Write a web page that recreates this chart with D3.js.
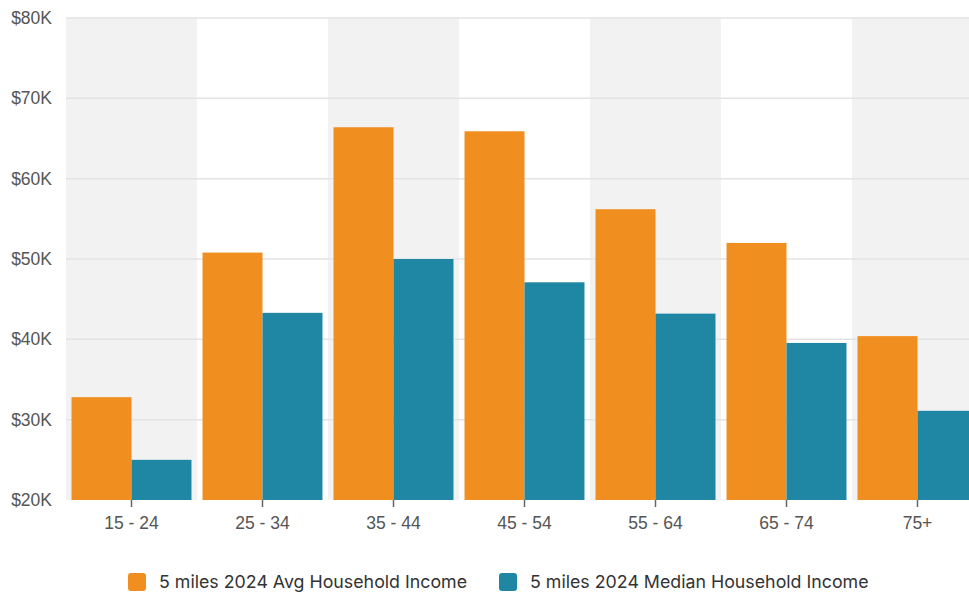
<!DOCTYPE html>
<html>
<head>
<meta charset="utf-8">
<script src="https://cdn.jsdelivr.net/npm/d3@7"></script>
<style>
  html, body { margin: 0; padding: 0; background: #fff; overflow: hidden; }
  svg { display: block; font-family: Inter, "Noto Sans", sans-serif; }
</style>
</head>
<body>
<div id="chart"></div>
<script>
// age groups
var categories = ['15 - 24', '25 - 34', '35 - 44', '45 - 54', '55 - 64', '65 - 74', '75+'];
var seriesNames = ['5 miles 2024 Avg Household Income', '5 miles 2024 Median Household Income'];
var avgIncome = [32800, 50800, 66400, 65900, 56200, 52000, 40400];
var medianIncome = [25000, 43300, 50000, 47100, 43200, 39550, 31100];
var yTicks = [20000, 30000, 40000, 50000, 60000, 70000, 80000];
var colors = ['#f08e1f', '#1f87a4'];

var W = 990, H = 595;
var margin = {left: 66, top: 18, bottom: 95};
var plotW = 917;

var svg = d3.select('#chart').append('svg').attr('width', W).attr('height', H);

var x = d3.scaleBand().domain(categories).range([margin.left, margin.left + plotW]);
var inner = d3.scaleBand().domain([0, 1]).range([0, x.bandwidth()]).paddingOuter(0.092);
var y = d3.scaleLinear().domain([20000, 80000]).range([H - margin.bottom, margin.top]);

// alternating band backgrounds
svg.append('g').selectAll('rect').data(categories).enter().append('rect')
  .attr('x', d => x(d)).attr('y', y(80000))
  .attr('width', x.bandwidth()).attr('height', y(20000) - y(80000))
  .attr('fill', (d, i) => i % 2 == 0 ? '#f2f2f2' : '#ffffff');

// gridlines
svg.append('g').selectAll('line').data(yTicks.slice(1)).enter().append('line')
  .attr('x1', margin.left).attr('x2', margin.left + plotW)
  .attr('y1', d => y(d)).attr('y2', d => y(d))
  .attr('stroke', '#e3e3e3').attr('stroke-width', 1.5);

// y axis labels
var yAxis = svg.append('g').attr('transform', 'translate(' + margin.left + ',0)')
  .call(d3.axisLeft(y).tickValues(yTicks).tickSize(0).tickPadding(14)
    .tickFormat(d => '$' + (d / 1000) + 'K'));
yAxis.select('.domain').remove();
yAxis.selectAll('text').attr('fill', '#555').style('font-size', '17.5px');

// bars
var rows = categories.map((c, i) => ({cat: c, vals: [avgIncome[i], medianIncome[i]]}));
var grp = svg.append('g').selectAll('g').data(rows).enter().append('g')
  .attr('transform', d => 'translate(' + x(d.cat) + ',0)');
grp.selectAll('rect').data(d => d.vals.map((v, k) => ({k: k, v: v}))).enter().append('rect')
  .attr('x', d => inner(d.k)).attr('width', inner.bandwidth())
  .attr('y', d => y(d.v)).attr('height', d => y(20000) - y(d.v))
  .attr('fill', d => colors[d.k]);

// x axis
var xAxis = svg.append('g').attr('transform', 'translate(0,' + y(20000) + ')')
  .call(d3.axisBottom(x).tickSize(7).tickPadding(10));
xAxis.select('.domain').remove();
xAxis.selectAll('line').attr('stroke', '#666').attr('stroke-width', 1.5);
xAxis.selectAll('text').attr('fill', '#555').style('font-size', '17.5px');

// legend
var legendX = [128, 499];
var leg = svg.append('g').selectAll('g').data(seriesNames).enter().append('g')
  .attr('transform', (d, i) => 'translate(' + legendX[i] + ',573)');
leg.append('rect').attr('width', 18).attr('height', 18).attr('rx', 3)
  .attr('fill', (d, i) => colors[i]);
leg.append('text').attr('x', 31).attr('y', 9).attr('dy', '0.35em')
  .attr('fill', '#333').style('font-size', '17.8px').text(d => d);
</script>
</body>
</html>
